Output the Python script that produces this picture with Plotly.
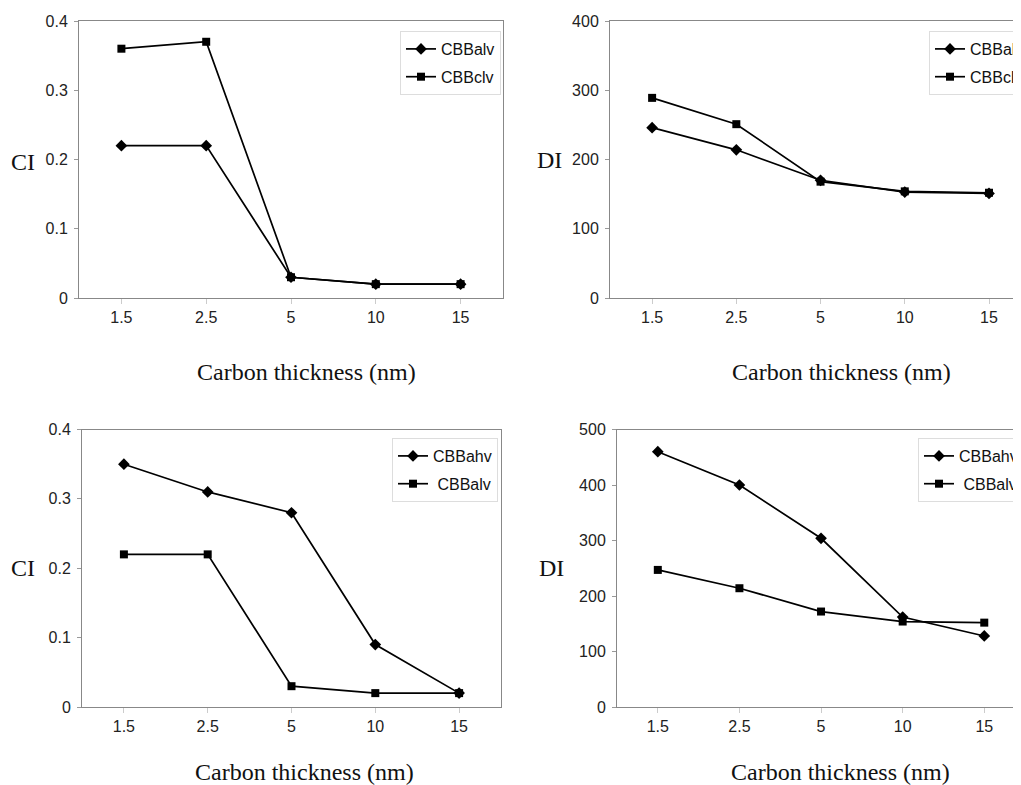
import plotly.graph_objects as go

categories = ["1.5", "2.5", "5", "10", "15"]

# Panel 1 (top-left): CI
p1_alv = [0.22, 0.22, 0.03, 0.02, 0.02]
p1_clv = [0.36, 0.37, 0.03, 0.02, 0.02]
# Panel 2 (top-right): DI
p2_alv = [246, 214, 170, 153, 151]
p2_clv = [289, 251, 168, 154, 152]
# Panel 3 (bottom-left): CI
p3_ahv = [0.35, 0.31, 0.28, 0.09, 0.02]
p3_alv = [0.22, 0.22, 0.03, 0.02, 0.02]
# Panel 4 (bottom-right): DI
p4_ahv = [460, 400, 304, 162, 128]
p4_alv = [247, 214, 172, 154, 152]

OFF = 8  # page body margin
W, H = 1021 - OFF, 785 - OFF

def px_x(v):
    return (v - OFF) / W

def px_y(v):
    return 1 - (v - OFF) / H

fig = go.Figure()

def add(y, name, symbol, ax, leg, grp, msize):
    fig.add_trace(go.Scatter(
        x=categories, y=y, name=name, mode="lines+markers",
        line=dict(color="black", width=1.7),
        marker=dict(symbol=symbol, size=msize, color="black"),
        xaxis="x" + ax if ax != "1" else "x",
        yaxis="y" + ax if ax != "1" else "y",
        legend=leg, legendgroup=grp,
    ))

add(p1_alv, "CBBalv", "diamond", "1", "legend", "a", 9)
add(p1_clv, "CBBclv", "square", "1", "legend", "b", 8)
add(p2_alv, "CBBalv", "diamond", "2", "legend2", "c", 9)
add(p2_clv, "CBBclv", "square", "2", "legend2", "d", 8)
add(p3_ahv, "CBBahv", "diamond", "3", "legend3", "e", 9)
add(p3_alv, " CBBalv", "square", "3", "legend3", "f", 8)
add(p4_ahv, "CBBahv", "diamond", "4", "legend4", "g", 9)
add(p4_alv, " CBBalv", "square", "4", "legend4", "h", 8)

tickfont = dict(family="Liberation Sans, Arial", size=16, color="#222")
serif = dict(family="Liberation Serif, Times New Roman", size=24, color="#111")

def xaxis(domain, rng, anchor):
    return dict(domain=domain, range=rng, anchor=anchor, type="category",
                showline=True, linecolor="#888", linewidth=1, mirror=True,
                ticks="outside", ticklen=5, tickcolor="#ccc",
                showgrid=False, zeroline=False, tickfont=tickfont,
                automargin=False, fixedrange=True)

def yaxis(domain, rng, dtick, anchor, mirror=True):
    return dict(domain=domain, range=rng, anchor=anchor, dtick=dtick,
                showline=True, linecolor="#888", linewidth=1, mirror=mirror,
                ticks="outside", ticklen=4, tickcolor="#999",
                showgrid=False, zeroline=False, tickfont=tickfont,
                automargin=False, ticklabelstandoff=3)

top_dom = [px_y(298), px_y(21)]
bot_dom = [px_y(707), px_y(429.5)]

def legend(x, y):
    return dict(x=px_x(x), y=px_y(y), xanchor="left", yanchor="top",
                bgcolor="white", bordercolor="#ddd", borderwidth=1,
                font=dict(family="Liberation Sans, Arial", size=16, color="#111"),
                tracegroupgap=4, itemwidth=30)

fig.update_layout(
    width=W, height=H,
    margin=dict(l=0, r=0, t=0, b=0, autoexpand=False),
    paper_bgcolor="white", plot_bgcolor="white",
    xaxis=xaxis([px_x(79), px_x(503)], [-0.5, 4.5], "y"),
    yaxis=yaxis(top_dom, [0, 0.4], 0.1, "x"),
    xaxis2=xaxis([px_x(610), 1.0], [-0.5, 4.38], "y2"),
    yaxis2=yaxis(top_dom, [0, 400], 100, "x2", mirror=False),
    xaxis3=xaxis([px_x(82), px_x(501)], [-0.5, 4.5], "y3"),
    yaxis3=yaxis(bot_dom, [0, 0.4], 0.1, "x3"),
    xaxis4=xaxis([px_x(617), 1.0], [-0.5, 4.45], "y4"),
    yaxis4=yaxis(bot_dom, [0, 500], 100, "x4", mirror=False),
    legend=legend(400, 31),
    legend2=legend(929, 31),
    legend3=legend(392, 438),
    legend4=legend(918, 438),
    showlegend=True,
)

annots = [
    ("CI", 23, 162), ("DI", 549, 160), ("CI", 23, 568), ("DI", 551, 568),
    ("Carbon thickness (nm)", 306, 372), ("Carbon thickness (nm)", 841, 372),
    ("Carbon thickness (nm)", 304, 772), ("Carbon thickness (nm)", 840, 772),
]
for text, x, y in annots:
    fig.add_annotation(text=text, x=px_x(x), y=px_y(y), xref="paper", yref="paper",
                       xanchor="center", yanchor="middle", showarrow=False, font=serif)

fig.write_html("out.html")
